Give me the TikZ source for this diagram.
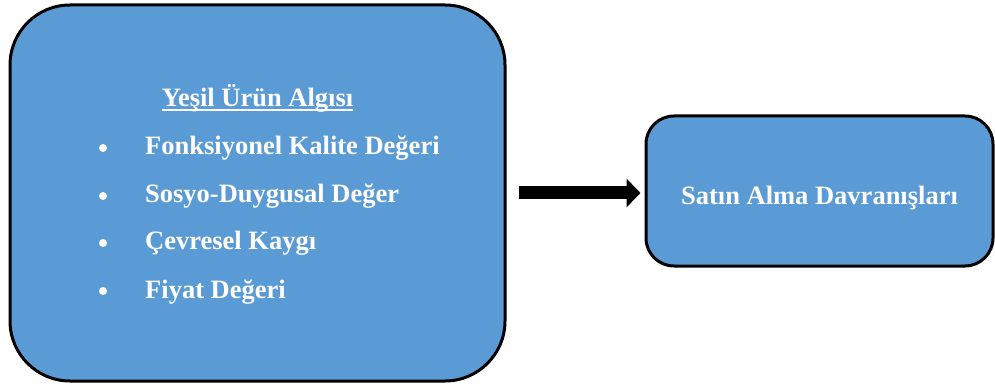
\documentclass[tikz,border=0pt]{standalone}
\usepackage{fontspec}
\setmainfont{Liberation Serif}
\usetikzlibrary{arrows.meta}
\definecolor{boxblue}{RGB}{91,155,213}

\begin{document}
\begin{tikzpicture}[x=1pt, y=1pt,
  bigbox/.style={draw, line width=3pt, fill=boxblue, inner sep=0pt},
  item/.style={text=white, inner sep=0pt, anchor=base west,
               font=\fontsize{26.5}{30}\selectfont\bfseries},
  dot/.style={circle, fill=white, inner sep=0pt, minimum size=8pt},
  flow/.style={line width=13pt, -{Triangle[length=14pt, width=28pt]}},
]
  \useasboundingbox (0,0) rectangle (995,383);

  % Perception box
  \node[bigbox, rounded corners=60pt, minimum width=495pt, minimum height=376pt]
    (perc) at (257.5, 190) {};
  \node[item, anchor=base] (title) at (257.5, 276) {Yeşil Ürün Algısı};
  \draw[white, line width=2pt] ([yshift=-3pt]title.base west) -- ([yshift=-3pt]title.base east);

  \node[dot] (d1) at (103, 235) {};
  \node[item] (i1) at (145, 228) {Fonksiyonel Kalite Değeri};
  \node[dot] (d2) at (103, 187) {};
  \node[item] (i2) at (145, 180) {Sosyo-Duygusal Değer};
  \node[dot] (d3) at (103, 140) {};
  \node[item] (i3) at (145, 133) {Çevresel Kaygı};
  \node[dot] (d4) at (103, 92) {};
  \node[item] (i4) at (145, 85) {Fiyat Değeri};

  % Behaviour box
  \node[bigbox, rounded corners=28pt, minimum width=347pt, minimum height=150pt,
        text=white, text height=28pt, text depth=0pt,
        font=\fontsize{26.5}{30}\selectfont\bfseries]
    (behav) at (819.5, 192) {Satın Alma Davranışları};

  \draw[flow] ([xshift=12pt]perc.east) -- ([xshift=-4pt]perc.east -| behav.west);

\end{tikzpicture}
\end{document}
